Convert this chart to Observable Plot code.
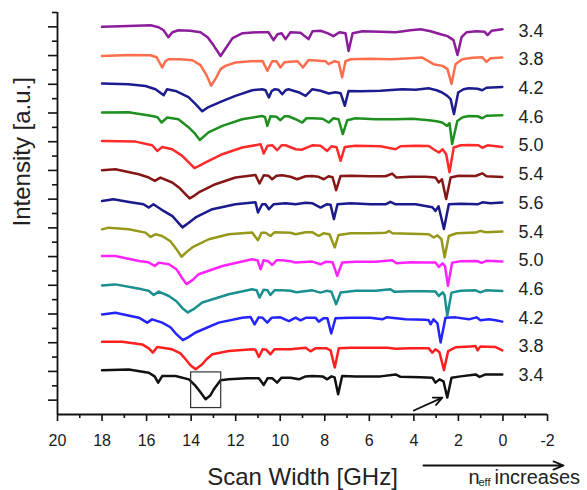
<!DOCTYPE html>
<html><head><meta charset="utf-8">
<script src="https://cdn.jsdelivr.net/npm/d3@7"></script>
<script src="https://cdn.jsdelivr.net/npm/@observablehq/plot@0.6"></script>
<style>body{margin:0;background:#fff}</style>
</head><body><div id="chart"></div>
<script>
// Spectra, bottom (index 0) to top. Each point: [scan width GHz, intensity a.u. relative to trace start]
const trace0 = [[18.0,1.3],[16.8,2],[15.9,-1.3],[15.64,-5],[15.48,-11.3],[15.3,-4.7],[14.7,-4.7],[14.1,-8],[13.8,-14.7],[13.58,-21],[13.35,-28],[13.13,-24],[12.98,-18],[12.68,-9],[12.31,-8],[11.5,-7],[10.96,-7],[10.74,-13.7],[10.57,-7],[10.35,-7],[10.14,-11.3],[9.94,-6.3],[9.54,-6.3],[9.16,-8],[8.86,-5],[8.56,-4.7],[8.1,-5],[7.89,-8],[7.7,-5],[7.56,-6],[7.4,-23],[7.22,-4.7],[6.62,-5],[5.5,-5],[4.82,-3],[4.6,-5.5],[3.7,-6],[3.17,-6.3],[3.03,-11.3],[2.85,-8],[2.67,-10],[2.5,-26.3],[2.31,-6.3],[1.9,-5],[1.23,-3],[1.05,-5.5],[0.78,-3],[0.03,-3]];
const trace1 = [[18.0,1],[17.09,1],[16.2,-1.7],[15.9,-5.7],[15.72,-10],[15.52,-4.4],[14.85,-6.7],[14.48,-10.7],[14.25,-16.7],[14.03,-22.7],[13.8,-26.7],[13.5,-21.7],[13.31,-16.7],[13.05,-11.7],[12.31,-8.4],[11.26,-6.7],[11.11,-7.2],[10.96,-14.4],[10.79,-6.7],[10.62,-7.2],[10.44,-11.7],[10.26,-6.7],[9.54,-6.7],[8.86,-5],[8.64,-8.7],[8.42,-5.7],[7.92,-5.7],[7.74,-7.7],[7.55,-25],[7.37,-5.7],[6.84,-5.2],[5.2,-5],[4.82,-6.2],[4.15,-5.7],[3.33,-5.7],[3.17,-10],[3.03,-6.7],[2.85,-9.7],[2.65,-27.7],[2.46,-8.4],[2.13,-4.7],[1.45,-3.7],[1.23,-3.4],[1.14,-7.7],[1.01,-3.7],[0.33,-4.4],[0.03,-7.7]];
const trace2 = [[18.0,-0.4],[17.4,1.3],[16.35,-3.7],[15.97,-8.7],[15.75,-5.4],[15.3,-8.7],[14.93,-13.4],[14.66,-20.4],[14.37,-26.4],[14.12,-23.4],[13.8,-18.7],[12.76,-8.7],[11.71,-3.7],[11.33,-3.1],[11.15,-10.4],[10.97,-3.4],[10.79,-3.9],[10.58,-8.7],[10.39,-3.9],[9.99,-3.4],[9.61,-7.1],[9.31,-3.7],[9.09,-6.4],[8.86,-3.9],[8.42,-3.7],[8.27,-7.7],[8.06,-4.4],[7.88,-4.4],[7.71,-19.7],[7.52,-4.4],[6.84,-3.9],[5.95,-3.9],[5.42,-5.4],[5.23,-3.4],[4.37,-5.4],[3.48,-5.9],[3.33,-6.4],[3.25,-10.4],[3.12,-5.4],[2.94,-9.4],[2.8,-28.7],[2.58,-3.7],[2.13,-3.4],[1.53,-5.4],[1.19,-3.4],[1.01,-6.4],[0.63,-5.4],[0.33,-6.4],[0.03,-7.7]];
const trace3 = [[18.0,-0.1],[17.4,0.9],[16.2,-4.1],[15.91,-5.6],[15.68,-9.8],[15.45,-6.4],[15.0,-10.8],[14.66,-16.1],[14.39,-23.1],[14.15,-27.4],[13.89,-24.1],[13.5,-17.4],[12.31,-9.1],[11.26,-4.1],[11.06,-5.1],[10.93,-12.4],[10.75,-4.6],[10.57,-5.1],[10.44,-9.8],[10.26,-5.1],[9.91,-5.1],[9.54,-5.6],[9.27,-7.1],[8.56,-5.1],[8.19,-7.4],[7.92,-5.6],[7.7,-6.6],[7.49,-19.1],[7.29,-7.4],[6.62,-5.6],[5.72,-5.6],[5.05,-4.1],[4.87,-6.6],[4.15,-6.1],[3.48,-6.1],[3.03,-6.4],[2.88,-10.8],[2.71,-7.1],[2.62,-10.1],[2.5,-30.8],[2.31,-7.4],[1.9,-5.6],[1.23,-5.1],[1.01,-7.1],[0.78,-5.1],[0.03,-5.8]];
const trace4 = [[18.0,0.5],[17.4,0.5],[16.35,-4.5],[15.91,-5.8],[15.63,-9.5],[15.45,-6.1],[15.0,-7.8],[14.66,-12.8],[14.43,-20.8],[14.21,-27.8],[13.94,-23.8],[13.66,-17.8],[12.6,-9.5],[11.26,-2.8],[11.02,-3.8],[10.88,-12.8],[10.75,-3.8],[10.53,-4.8],[10.36,-8.5],[10.17,-3.8],[9.91,-3.8],[9.54,-4.8],[9.31,-6.1],[8.56,-5.1],[8.19,-7.8],[7.97,-5.3],[7.65,-5.8],[7.44,-19.5],[7.22,-6.1],[6.62,-5.3],[5.72,-5.3],[4.97,-3.8],[4.78,-6.8],[4.15,-5.8],[3.48,-6.1],[3.03,-6.1],[2.88,-10.5],[2.71,-6.8],[2.6,-9.8],[2.47,-29.5],[2.28,-6.1],[1.9,-4.8],[1.16,-4.5],[0.96,-6.3],[0.74,-4.3],[0.03,-5.1]];
const trace5 = [[18.0,-1.5],[17.7,0.2],[16.8,-1.5],[16.05,-4.8],[15.82,-9.2],[15.6,-6.5],[15.3,-8.2],[14.93,-13.5],[14.66,-21.5],[14.43,-29.2],[14.21,-24.5],[13.95,-19.8],[13.21,-11.5],[12.31,-6.5],[11.26,-4.8],[11.0,-12.5],[10.84,-5],[10.66,-5],[10.44,-8.2],[10.26,-4.5],[9.91,-4.8],[9.54,-5],[9.31,-6.5],[8.86,-4.5],[8.55,-4.5],[8.27,-8.2],[8.06,-5.5],[7.79,-6.5],[7.55,-19.8],[7.38,-7.2],[6.84,-5.5],[5.95,-5.5],[5.27,-5],[5.12,-3.2],[4.96,-5.5],[4.15,-6],[3.33,-6.5],[3.1,-9.8],[2.94,-7.5],[2.76,-11.5],[2.62,-29.8],[2.43,-8.2],[2.08,-5.5],[1.23,-4.8],[1.01,-3],[0.78,-4.5],[0.03,-3.8]];
const trace6 = [[18.0,-1.9],[17.49,-0.2],[16.72,-3.2],[16.14,-5.2],[15.9,-8.5],[15.69,-5.2],[15.24,-11.9],[14.84,-17.2],[14.39,-28.5],[14.12,-24.2],[13.8,-18.5],[13.05,-10.2],[12.01,-5.2],[11.11,-3.2],[11.0,-13.5],[10.81,-5.2],[10.66,-5.2],[10.51,-10.2],[10.3,-5.2],[9.76,-4.2],[9.31,-5.2],[8.86,-3.7],[8.55,-4.2],[8.19,-8.5],[7.92,-5.2],[7.74,-5.7],[7.59,-20.2],[7.43,-5.2],[6.84,-4.2],[5.95,-5.2],[5.27,-5.2],[5.05,-2.7],[4.82,-5.2],[3.92,-5.2],[3.17,-8.2],[3.03,-11.9],[2.89,-7.2],[2.65,-30.2],[2.43,-5.2],[1.9,-4.7],[1.14,-5.2],[0.92,-3.2],[0.56,-4.2],[0.03,-3.5]];
const trace7 = [[18.0,0.1],[17.4,1.1],[16.35,-3.9],[15.9,-7.2],[15.63,-10.6],[15.38,-7.2],[14.85,-12.2],[14.55,-17.2],[14.3,-22.9],[14.07,-28.2],[13.85,-25.4],[13.66,-22.2],[12.91,-13.9],[12.01,-7.2],[11.11,-4.6],[10.93,-13.2],[10.74,-4.9],[10.53,-5.4],[10.36,-8.9],[10.17,-5.4],[9.91,-4.9],[9.54,-6.4],[9.24,-8.9],[8.86,-5.9],[8.56,-5.6],[8.28,-6.4],[8.04,-8.9],[7.83,-5.9],[7.65,-6.9],[7.49,-19.9],[7.29,-5.6],[6.84,-5.4],[5.95,-5.9],[5.27,-5.9],[4.97,-3.2],[4.78,-7.2],[4.15,-6.4],[3.48,-6.4],[3.03,-7.2],[2.88,-12.2],[2.74,-8.9],[2.55,-28.9],[2.35,-7.2],[1.99,-5.4],[1.23,-5.6],[0.93,-2.9],[0.74,-5.9],[0.03,-6.6]];
const trace8 = [[18.0,0.7],[16.5,0.1],[15.75,-3.6],[15.52,-9.3],[15.3,-5.3],[14.85,-7.6],[14.4,-14.3],[14.12,-20.6],[13.85,-26.6],[13.62,-24.1],[13.35,-20.9],[12.6,-12.6],[11.71,-5.9],[10.88,-2.6],[10.74,-11.9],[10.57,-4.1],[10.35,-3.6],[10.14,-8.6],[9.94,-3.6],[9.76,-3.6],[9.31,-7.6],[9.04,-8.1],[8.56,-3.6],[8.19,-4.1],[7.89,-9.3],[7.7,-4.6],[7.47,-5.6],[7.29,-19.3],[7.1,-5.3],[6.62,-4.1],[5.5,-4.6],[4.82,-7.6],[4.6,-4.6],[3.92,-4.1],[3.33,-4.3],[3.12,-7.6],[2.88,-10.9],[2.71,-7.6],[2.55,-12.6],[2.4,-30.9],[2.21,-5.9],[1.9,-3.6],[1.53,-3.3],[1.1,-3.6],[0.93,-6.1],[0.69,-3.6],[0.03,-5.3]];
const trace9 = [[18.0,0.4],[16.81,0.7],[15.75,-3],[15.51,-4.3],[15.33,-9.6],[15.07,-4.6],[14.57,-6.3],[14.12,-14.3],[13.85,-20.3],[13.61,-27.3],[13.22,-19.6],[12.6,-13],[11.71,-6.3],[10.81,-3],[10.68,-4.3],[10.58,-13],[10.44,-3.3],[10.17,-3.8],[9.99,-7.3],[9.81,-3.3],[9.63,-3.3],[9.31,-6.3],[9.01,-9.6],[8.82,-5.3],[8.56,-5.3],[8.1,-5.8],[7.82,-9.6],[7.61,-5.3],[7.38,-6.3],[7.19,-21.3],[6.99,-7.3],[6.62,-5.3],[5.72,-6.3],[4.82,-6.3],[4.06,-5.8],[3.33,-7.3],[2.98,-8.3],[2.73,-9.6],[2.51,-13],[2.4,-10.3],[2.28,-31.3],[2.05,-8],[1.81,-4.3],[1.53,-3],[1.14,-3.3],[0.93,-5.3],[0.74,-2.8],[0.03,-2.3]];
const trace10 = [[18.0,0.7],[16.81,0],[16.05,-1.7],[15.6,-5],[15.23,-11],[15.08,-5],[14.7,-6.7],[14.12,-13],[13.8,-20],[13.5,-27.3],[13.22,-23],[12.6,-17],[12.01,-11.7],[11.26,-6],[10.81,-5],[10.66,-6],[10.51,-13.3],[10.39,-7],[10.26,-5],[10.08,-5.5],[9.91,-10],[9.76,-6],[9.63,-5],[9.18,-8],[8.86,-11.7],[8.56,-5],[8.19,-6.5],[7.82,-9.3],[7.52,-8],[7.29,-9],[7.1,-21.7],[6.93,-6.7],[6.39,-7],[5.5,-6.5],[4.52,-5],[3.92,-5.5],[3.34,-4],[2.98,-6],[2.73,-8.3],[2.5,-11.7],[2.35,-15],[2.2,-30],[2.01,-8.3],[1.77,-5],[1.53,-4],[1.14,-4.5],[0.93,-6],[0.74,-3.5],[0.03,-2.7]];
const trace11 = [[18.0,-0.4],[16.72,0.6],[15.82,0.3],[15.55,-1.7],[15.3,-12],[15.15,-5.7],[15.02,-3.7],[14.48,-3.7],[13.94,-4.7],[13.58,-9.7],[13.31,-19.7],[13.1,-30.4],[12.86,-21.7],[12.68,-13.7],[12.46,-10.4],[12.01,-7],[11.33,-5.7],[10.79,-5.4],[10.58,-15.4],[10.36,-5.7],[10.17,-5.7],[9.99,-12],[9.81,-6.7],[9.54,-6.2],[9.22,-5.7],[8.98,-12],[8.73,-4.4],[8.28,-5.2],[7.97,-5.7],[7.83,-8.7],[7.56,-5.7],[7.38,-6.7],[7.22,-22],[7.07,-5.7],[6.84,-3.7],[5.95,-3.2],[5.05,-3.7],[4.15,-2.7],[3.62,-2],[3.12,-8.7],[2.71,-10.4],[2.49,-13.7],[2.31,-28.7],[2.13,-8.7],[1.83,-3.7],[1.37,-2.2],[0.93,-1.7],[0.74,-6.4],[0.56,-2.7],[0.03,-2]];
const trace12 = [[18.0,0],[17.17,0.6],[15.82,1.6],[15.46,-0.4],[15.24,-3.4],[15.02,-10.4],[14.84,-5.4],[14.57,-3.4],[14.03,-3.9],[13.58,-5.4],[13.26,-10.4],[13.0,-18.4],[12.68,-29.4],[12.41,-20.4],[12.14,-11.4],[11.69,-6.4],[10.97,-5.4],[10.53,-5.4],[10.3,-13.4],[10.12,-7.4],[9.94,-6.4],[9.76,-12.4],[9.54,-5.4],[9.09,-5.9],[8.73,-12.4],[8.55,-4.4],[8.19,-3.9],[7.88,-6.4],[7.61,-9.4],[7.34,-5.4],[7.07,-6.4],[6.93,-24.4],[6.75,-6.4],[6.3,-4.4],[5.5,-4.9],[4.82,-5.4],[4.15,-3.4],[3.7,-2.4],[3.25,-4.4],[2.8,-7.4],[2.49,-9.4],[2.22,-13.4],[2.04,-28.4],[1.86,-10.4],[1.63,-5.4],[1.19,-4.4],[0.83,-4.9],[0.69,-8.4],[0.51,-3.9],[0.02,-2.4]];

const traceLabels = ["3.4","3.8","4.2","4.6","5.0","5.4","5.6","5.4","5.0","4.6","4.2","3.8","3.4"];
const traceColors = ["#111111","#ff1f1f","#2424ff","#1a8f8f","#ff22ff","#979719","#1a1a8c","#861616","#ff2b2b","#1f901f","#1c1c8e","#ff6e4c","#8c1c9c"];

const xMajorTicks = [20,18,16,14,12,10,8,6,4,2,0,-2];
const xMinorTicks = [19,17,15,13,11,9,7,5,3,1,-1];

// annotations (data coordinates)
const boxX = [14.0, 12.65], boxY = [-1, -37];
const pointerArrow = {x1: 4.0, y1: -39.5, x2: 2.72, y2: -26.5};
const trendArrow = {x1: 3.57, y1: -95, x2: -2.72, y2: -95};

const traces = [trace0,trace1,trace2,trace3,trace4,trace5,trace6,trace7,trace8,trace9,trace10,trace11,trace12];
const spacing = 29;
const offsets = traces.map((t, k) => k * spacing);
const yMajorTicks = [-1, ...offsets.map((o, k) => k)].map(k => k * spacing);
const yMinorTicks = yMajorTicks.map(v => v + spacing / 2);

const font = "'Liberation Sans', Arial, sans-serif";

const lineMarks = traces.map((t, k) => Plot.line(t, {
  x: d => d[0], y: d => d[1] + offsets[k],
  stroke: traceColors[k], strokeWidth: 2.5, strokeLinejoin: "round", strokeLinecap: "round"
}));

const chart = Plot.plot({
  width: 587, height: 490,
  marginLeft: 57, marginRight: 40, marginTop: 12, marginBottom: 76,
  style: {fontFamily: font, background: "white", color: "#1a1a1a"},
  x: {domain: [20, -2], label: null},
  y: {domain: [-43.5, 362.5], label: null},
  marks: [
    Plot.axisX({ticks: xMajorTicks, tickSize: 7, tickPadding: 13, fontSize: 16, tickFormat: d => String(d), label: null, strokeWidth: 1.6, stroke: "#111"}),
    Plot.axisX({ticks: xMinorTicks, tickSize: 4, tickFormat: () => "", label: null, strokeWidth: 1.6, stroke: "#111"}),
    Plot.axisY({ticks: yMajorTicks, tickSize: 9, tickFormat: () => "", label: null, strokeWidth: 1.6, stroke: "#111"}),
    Plot.axisY({ticks: yMinorTicks, tickSize: 5, tickFormat: () => "", label: null, strokeWidth: 1.6, stroke: "#111"}),
    Plot.ruleX([20], {stroke: "#111", strokeWidth: 1.8}),
    Plot.ruleY([-43.5], {stroke: "#111", strokeWidth: 1.8}),
    ...lineMarks,
    Plot.text(traceLabels, {y: (d, i) => offsets[i], text: d => d, frameAnchor: "right", textAnchor: "start", dx: -29, dy: 4, fontSize: 18, fill: "#222"}),
    Plot.rect([0], {x1: boxX[0], x2: boxX[1], y1: boxY[0], y2: boxY[1], fill: "none", stroke: "#333", strokeWidth: 1.2}),
    Plot.arrow([pointerArrow], {x1: "x1", y1: "y1", x2: "x2", y2: "y2", stroke: "#111", strokeWidth: 1.8, headLength: 8, headAngle: 50}),
    Plot.arrow([trendArrow], {x1: "x1", y1: "y1", x2: "x2", y2: "y2", stroke: "#111", strokeWidth: 1.8, headLength: 9, headAngle: 45}),
    Plot.text(["Scan Width [GHz]"], {frameAnchor: "bottom", dy: 63, fontSize: 24, fill: "#222", lineAnchor: "middle"}),
    Plot.text(["Intensity [a.u.]"], {frameAnchor: "left", rotate: -90, dx: -35, dy: 13, fontSize: 24, fill: "#222", lineAnchor: "middle"}),
    Plot.text(["n"], {frameAnchor: "bottom-right", textAnchor: "start", dx: -79, dy: 63, fontSize: 20, fill: "#222", lineAnchor: "middle"}),
    Plot.text(["eff"], {frameAnchor: "bottom-right", textAnchor: "start", dx: -69, dy: 68, fontSize: 11, fill: "#222", lineAnchor: "middle"}),
    Plot.text(["increases"], {frameAnchor: "bottom-right", textAnchor: "start", dx: -53, dy: 63, fontSize: 20, fill: "#222", lineAnchor: "middle"})
  ]
});
document.getElementById("chart").appendChild(chart);
</script>
</body></html>
